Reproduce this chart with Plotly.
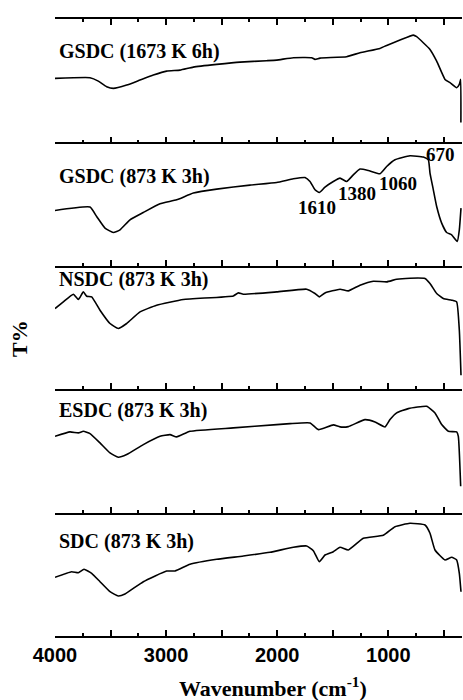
import plotly.graph_objects as go
from plotly.subplots import make_subplots

# Wavenumber (cm-1) and transmittance (arbitrary units, per panel)
wn_gsdc1673 = [4000, 3685, 3610, 3535, 3475, 3355, 3235, 3115, 2995, 2875, 2755, 2545, 2335, 2095, 2005,
               1855, 1690, 1660, 1615, 1375, 1255, 1075, 1015, 895, 775, 745, 625, 565, 490, 445, 385,
               361, 349, 347]
t_gsdc1673 = [64, 64.7, 61.3, 55.7, 54, 57.3, 62.3, 67.3, 71.3, 72.3, 75.3, 78, 80.3, 81.7, 82.3,
              84.7, 84.7, 83, 84.3, 85.7, 89.7, 94, 97, 102.3, 107.3, 105.7, 93, 81.3, 63, 59.7, 54.7,
              58, 63, 20]

wn_gsdc873 = [4000, 3685, 3625, 3550, 3475, 3415, 3325, 3205, 3055, 2905, 2755, 2545, 2245, 2005, 1855,
              1750, 1705, 1660, 1621, 1570, 1495, 1435, 1375, 1315, 1255, 1180, 1075, 1015, 940, 805,
              685, 640, 625, 595, 565, 520, 475, 430, 380, 361, 346]
t_gsdc873 = [55.3, 58.7, 49.3, 37.7, 33.3, 36, 46, 53.3, 62, 66, 72.7, 76.7, 80.7, 83.3, 87,
             88.3, 84.3, 76, 73.3, 78.7, 84.3, 87.7, 84.3, 91, 96.7, 95.3, 92, 99.3, 106, 110,
             108.7, 106, 92.7, 76, 59.3, 42.7, 33.3, 31, 24.3, 36, 57.7]

wn_nsdc = [4000, 3925, 3835, 3790, 3745, 3715, 3670, 3595, 3505, 3430, 3355, 3235, 3085, 2845,
           2395, 2350, 2305, 2005, 1735, 1660, 1621, 1570, 1435, 1360, 1255, 1135, 1015,
           925, 805, 670, 625, 565, 505, 430, 385, 361, 346]
t_nsdc = [80.7, 87.3, 95, 89.7, 97.3, 93, 92.3, 79, 65.7, 60.7, 65.7, 77.3, 84, 89.7,
          93.3, 96.3, 95, 97.3, 100, 95.7, 92.3, 96.3, 100, 98.3, 104, 108, 107.3,
          110, 111, 110.7, 105.7, 95.7, 90.7, 89, 87.3, 59, 14]

wn_esdc = [4000, 3865, 3790, 3745, 3685, 3595, 3505, 3430, 3355, 3205, 3055, 2965, 2905, 2785, 2395,
           2005, 1885, 1705, 1630, 1495, 1435, 1360, 1210, 1120, 1030, 985, 925, 820, 655,
           580, 520, 460, 385, 370, 349]
t_esdc = [76.3, 80.7, 79.7, 81.3, 79, 69.7, 59.7, 55.3, 58, 68, 76.3, 78, 75.7, 81.3, 84.7,
          88, 89, 89.7, 83, 87.7, 85.7, 86, 93, 90.7, 85.7, 93, 99.7, 104, 106.3,
          99.7, 88, 81.3, 80.7, 76.3, 26.3]

wn_sdc = [4000, 3850, 3790, 3739, 3670, 3595, 3505, 3430, 3370, 3205, 2995, 2920, 2785, 2545, 2305,
          2065, 1855, 1735, 1675, 1621, 1570, 1495, 1435, 1360, 1225, 1045, 940, 805, 670, 625,
          580, 490, 430, 385, 361, 346]
t_sdc = [58.7, 64.3, 63.3, 66.7, 62.7, 54.3, 44.3, 40, 42, 54.3, 65, 65, 71.7, 76.7, 80,
         83.7, 88.7, 90, 85.3, 74.3, 81, 84.3, 88.7, 86, 97.7, 100.7, 109.3, 112.7, 111, 102.7,
         86, 76, 78.7, 76, 62.7, 44.3]

panel_names = ["GSDC (1673 K 6h)", "GSDC (873 K 3h)", "NSDC (873 K 3h)", "ESDC (873 K 3h)", "SDC (873 K 3h)"]
panel_label_t = [91.3, 89.3, 109.7, 102, 94.3]

peak_labels = ["1610", "1380", "1060", "670"]
peak_label_wn = [1645, 1285, 910, 535]
peak_label_t = [58, 72.7, 82, 111]

series = [(wn_gsdc1673, t_gsdc1673), (wn_gsdc873, t_gsdc873), (wn_nsdc, t_nsdc),
          (wn_esdc, t_esdc), (wn_sdc, t_sdc)]

fig = make_subplots(rows=5, cols=1, shared_xaxes=True, vertical_spacing=0)

serif = "Liberation Serif, Times New Roman, serif"
sans = "Liberation Sans, Arial, sans-serif"

for i, (wn, t) in enumerate(series):
    fig.add_trace(go.Scatter(x=wn, y=t, mode="lines",
                             line=dict(color="black", width=1.6, shape="spline", smoothing=0.4),
                             showlegend=False, hoverinfo="skip"), row=i + 1, col=1)
    fig.update_yaxes(range=[0, 123.4], visible=False, row=i + 1, col=1)
    fig.update_xaxes(range=[4000, 337], showline=True, linecolor="black", linewidth=1.5,
                     ticks="inside", ticklen=6, tickwidth=1.5, tickcolor="black",
                     tickmode="linear", tick0=0, dtick=500, ticklabelstep=2,
                     minor=dict(ticks="inside", ticklen=3, tickwidth=1.5, tickcolor="black",
                                dtick=250, tick0=0),
                     showgrid=False, zeroline=False,
                     showticklabels=(i == 4),
                     tickfont=dict(family=sans, size=20, color="black", weight="bold"),
                     mirror=("ticks" if i == 0 else False),
                     row=i + 1, col=1)
    xr = "x" if i == 0 else f"x{i + 1}"
    yr = "y" if i == 0 else f"y{i + 1}"
    fig.add_annotation(x=3985, y=panel_label_t[i], xref=xr, yref=yr, text=panel_names[i],
                       showarrow=False, xanchor="left", yanchor="middle",
                       font=dict(family=serif, size=20, color="black", weight="bold"))

for lab, w, tv in zip(peak_labels, peak_label_wn, peak_label_t):
    fig.add_annotation(x=w, y=tv, xref="x2", yref="y2", text=lab, showarrow=False,
                       xanchor="center", yanchor="middle",
                       font=dict(family=serif, size=19, color="black", weight="bold"))

fig.add_annotation(x=0.5356, y=-0.083, xref="paper", yref="paper",
                   text="Wavenumber (cm<sup>-1</sup>)", showarrow=False,
                   xanchor="center", yanchor="middle",
                   font=dict(family=serif, size=22, color="black", weight="bold"))
fig.add_annotation(x=-0.086, y=0.483, xref="paper", yref="paper", text="T%", textangle=-90,
                   showarrow=False, xanchor="center", yanchor="middle",
                   font=dict(family=serif, size=22, color="black", weight="bold"))

fig.update_layout(width=463, height=700, margin=dict(l=55, r=1, t=19, b=64),
                  plot_bgcolor="white", paper_bgcolor="white")

# remove the default page margin so the figure fills the 463x700 window exactly
fig.write_html("out.html", config={"displayModeBar": False},
               post_script="document.body.style.margin='0';"
                           "document.documentElement.style.overflow='hidden';"
                           "document.body.style.overflow='hidden';")
